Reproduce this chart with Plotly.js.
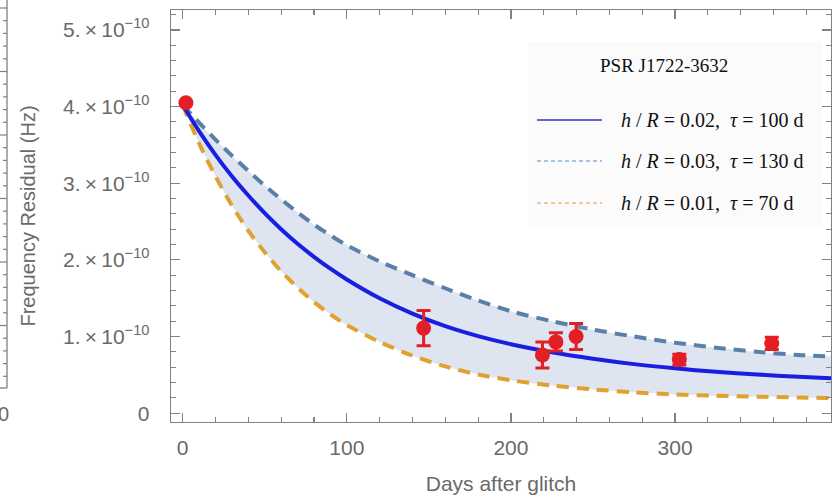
<!DOCTYPE html>
<html>
<head>
<meta charset="utf-8">
<script src="https://cdn.plot.ly/plotly-3.0.1.min.js"></script>
<style>html,body{margin:0;padding:0;background:#fff;}#chart{width:833px;height:501px;}</style>
</head>
<body>
<div id="chart"></div>
<script>
// ---- data (frequency residual in units of 1e-10 Hz) ----
const curveDays = [0,10,20,30,40,50,60,70,80,90,100,120,140,160,180,200,225,250,275,300,325,350,375,395];
const modelMid   = [4.02,3.68,3.37,3.09,2.84,2.61,2.40,2.21,2.04,1.885,1.745,1.50,1.30,1.135,1.005,0.90,0.795,0.71,0.64,0.585,0.54,0.505,0.475,0.455];
const modelUpper = [4.02,3.79,3.57,3.36,3.16,2.97,2.79,2.62,2.46,2.32,2.19,1.98,1.80,1.63,1.47,1.33,1.20,1.09,1.00,0.92,0.855,0.80,0.76,0.74];
const modelLower = [4.02,3.52,3.09,2.71,2.38,2.10,1.85,1.64,1.45,1.29,1.15,0.93,0.75,0.61,0.505,0.43,0.36,0.31,0.272,0.245,0.228,0.215,0.205,0.197];

const obsDays = [2,146.8,219.2,227.4,239.7,302.6,358.9];
const obsResid = [4.05,1.11,0.76,0.93,1.00,0.70,0.91];
const obsErr = [0,0.23,0.17,0.12,0.17,0.07,0.08];

const yTickVals = [0,1,2,3,4,5];
const yTickText = ['0','1.\u2009\u00d7\u200910<sup>\u221210</sup>','2.\u2009\u00d7\u200910<sup>\u221210</sup>','3.\u2009\u00d7\u200910<sup>\u221210</sup>','4.\u2009\u00d7\u200910<sup>\u221210</sup>','5.\u2009\u00d7\u200910<sup>\u221210</sup>'];
const xTickVals = [0,100,200,300];

const legendTitle = 'PSR J1722-3632';
const legendLabels = [
  '<i>h</i> / <i>R</i> = 0.02,\u00a0\u00a0<i>\u03c4</i> = 100 d',
  '<i>h</i> / <i>R</i> = 0.03,\u00a0\u00a0<i>\u03c4</i> = 130 d',
  '<i>h</i> / <i>R</i> = 0.01,\u00a0\u00a0<i>\u03c4</i> = 70 d'
];

// ---- styling ----
const cMid = '#1a1ee0', cUp = '#5c7fa8', cLow = '#e1a12e', cPt = '#e31e24';
const axisGrey = '#808080', textGrey = '#6a6a6a';

// pixel helpers for decoration (plot area: x 171..831, y 10..422)
const L = 171, R = 2, T = 10, B = 79, W = 833, H = 501;
const pw = W - L - R, ph = H - T - B;
const px = v => (v - L) / pw;
const py = v => (H - B - v) / ph;

const traces = [
  {x: curveDays, y: modelLower, mode: 'lines', line: {color: cLow, width: 4, dash: '12px,8px', shape: 'spline', smoothing: 0.8}, hoverinfo: 'skip', showlegend: false},
  {x: curveDays, y: modelUpper, mode: 'lines', fill: 'tonexty', fillcolor: '#dfe5f0', line: {color: cUp, width: 4, dash: '12px,8px', shape: 'spline', smoothing: 0.8}, showlegend: false},
  {x: curveDays, y: modelMid, mode: 'lines', line: {color: cMid, width: 4, shape: 'spline', smoothing: 0.8}, showlegend: false},
  {x: obsDays, y: obsResid, mode: 'markers', marker: {color: cPt, size: 15},
   error_y: {type: 'data', array: obsErr, visible: true, color: cPt, thickness: 3, width: 7}, showlegend: false}
];

const shapes = [];
const annotations = [];
// legend panel background
shapes.push({type: 'rect', xref: 'paper', yref: 'paper', x0: px(528), x1: px(822), y0: py(228), y1: py(42), fillcolor: '#fbfbfb', line: {width: 0}, layer: 'below'});
annotations.push({xref: 'paper', yref: 'paper', x: px(664), y: py(65), text: legendTitle, showarrow: false, xanchor: 'center', yanchor: 'middle', font: {family: 'Liberation Serif, Times New Roman, serif', size: 19, color: '#111'}});
const legRows = [120, 161, 203];
const legStyles = [{color: '#3434c4', width: 1.5, dash: 'solid'}, {color: '#8fb0d6', width: 1.3, dash: '4px,3px'}, {color: '#f0b77a', width: 1.3, dash: '4px,3px'}];
legRows.forEach((r, i) => {
  shapes.push({type: 'line', xref: 'paper', yref: 'paper', x0: px(537), x1: px(602), y0: py(r), y1: py(r), line: legStyles[i]});
  annotations.push({xref: 'paper', yref: 'paper', x: px(619), y: py(r), text: legendLabels[i], showarrow: false, xanchor: 'left', yanchor: 'middle', font: {family: 'Liberation Serif, Times New Roman, serif', size: 20, color: '#111'}});
});
// fragment of the neighbouring panel at the left edge
shapes.push({type: 'line', xref: 'paper', yref: 'paper', x0: px(7), x1: px(7), y0: py(0), y1: py(388), line: {color: axisGrey, width: 1.3}});
shapes.push({type: 'line', xref: 'paper', yref: 'paper', x0: px(0), x1: px(7), y0: py(388), y1: py(388), line: {color: axisGrey, width: 1.3}});
for (let k = 0; k < 31; k++) {
  const yy = 8 + 12.7 * k;
  if (yy > 385) break;
  const len = (k % 5 === 0) ? 7 : 4;
  shapes.push({type: 'line', xref: 'paper', yref: 'paper', x0: px(7 - len), x1: px(7), y0: py(yy), y1: py(yy), line: {color: axisGrey, width: 1.2}});
}
annotations.push({xref: 'paper', yref: 'paper', x: px(11), y: py(414), text: '00', showarrow: false, xanchor: 'right', yanchor: 'middle', font: {family: 'Liberation Sans, Arial, sans-serif', size: 20, color: textGrey}});

const layout = {
  width: W, height: H,
  margin: {l: L, r: R, t: T, b: B},
  paper_bgcolor: '#ffffff', plot_bgcolor: '#ffffff',
  showlegend: false,
  font: {family: 'Liberation Sans, Arial, sans-serif', size: 20, color: textGrey},
  xaxis: {
    range: [-7.1, 395], tickvals: xTickVals, ticktext: xTickVals.map(String),
    showline: true, mirror: 'ticks', linecolor: axisGrey, linewidth: 1.3,
    ticks: 'inside', ticklen: 9, tickwidth: 1.2, tickcolor: axisGrey,
    minor: {dtick: 20, tick0: 0, ticks: 'inside', ticklen: 5, tickwidth: 1.1, tickcolor: axisGrey},
    showgrid: false, zeroline: false, ticklabelstandoff: 6,
    tickfont: {size: 21, color: textGrey},
    title: {text: 'Days after glitch', font: {size: 21, color: textGrey}, standoff: 18},
    automargin: false
  },
  yaxis: {
    range: [-0.115, 5.26], tickvals: yTickVals, ticktext: yTickText,
    showline: true, mirror: 'ticks', linecolor: axisGrey, linewidth: 1.3,
    ticks: 'inside', ticklen: 9, tickwidth: 1.2, tickcolor: axisGrey,
    minor: {dtick: 0.2, tick0: 0, ticks: 'inside', ticklen: 5, tickwidth: 1.1, tickcolor: axisGrey},
    showgrid: false, zeroline: false, ticklabelstandoff: 16,
    tickfont: {size: 21, color: textGrey},
    title: {text: 'Frequency Residual (Hz)', font: {size: 20, color: textGrey}, standoff: 22},
    automargin: false
  },
  shapes: shapes,
  annotations: annotations
};

Plotly.newPlot('chart', traces, layout, {displayModeBar: false, staticPlot: true});
</script>
</body>
</html>
